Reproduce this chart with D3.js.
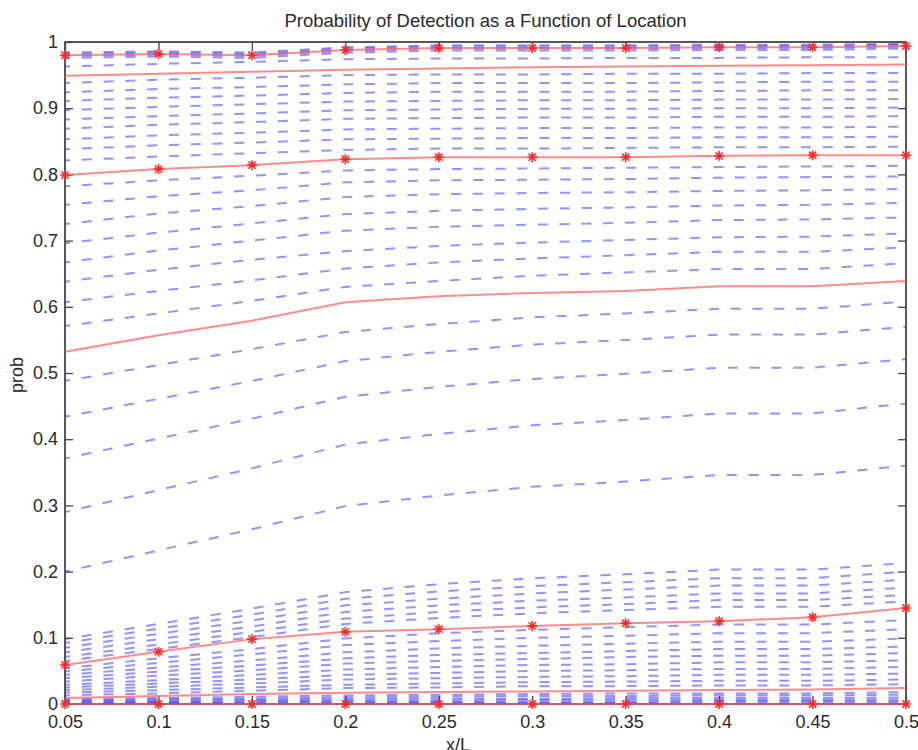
<!DOCTYPE html>
<html><head><meta charset="utf-8">
<script src="https://cdn.jsdelivr.net/npm/d3@7"></script>
<style>body{margin:0;background:#fff}svg{display:block}</style>
</head><body>
<svg id="c" width="918" height="750"></svg>
<script>
// ---------- data ----------
const xValues = [0.05,0.1,0.15,0.2,0.25,0.3,0.35,0.4,0.45,0.5];
const xTickLabels = ["0.05","0.1","0.15","0.2","0.25","0.3","0.35","0.4","0.45","0.5"];
const yTickValues = [0,0.1,0.2,0.3,0.4,0.5,0.6,0.7,0.8,0.9,1];
const yTickLabels = ["0","0.1","0.2","0.3","0.4","0.5","0.6","0.7","0.8","0.9","1"];

// blue dashed curves (grouped top to bottom)
const topBand = [
  [0.976,0.978,0.976,0.984,0.987,0.987,0.987,0.988,0.988,0.990],
  [0.979,0.981,0.979,0.987,0.990,0.990,0.990,0.991,0.991,0.993],
  [0.982,0.984,0.982,0.990,0.993,0.993,0.993,0.994,0.994,0.996],
  [0.984,0.986,0.984,0.992,0.995,0.995,0.995,0.996,0.996,0.997],
  [0.963,0.967,0.970,0.974,0.975,0.975,0.976,0.976,0.977,0.977]
];
const upperLines = [
  [0.938,0.943,0.946,0.950,0.951,0.951,0.952,0.952,0.953,0.953],
  [0.924,0.929,0.932,0.936,0.938,0.938,0.938,0.939,0.940,0.940],
  [0.911,0.916,0.919,0.923,0.925,0.925,0.925,0.926,0.927,0.927],
  [0.897,0.902,0.906,0.910,0.911,0.912,0.912,0.913,0.913,0.914],
  [0.883,0.888,0.892,0.897,0.898,0.899,0.899,0.900,0.900,0.901],
  [0.869,0.875,0.879,0.884,0.885,0.886,0.886,0.887,0.887,0.888],
  [0.853,0.859,0.863,0.868,0.869,0.870,0.870,0.871,0.871,0.872],
  [0.838,0.844,0.848,0.853,0.854,0.855,0.855,0.856,0.856,0.857],
  [0.821,0.827,0.832,0.837,0.839,0.839,0.840,0.841,0.841,0.842]
];
const middleUpper = [
  [0.782,0.791,0.798,0.806,0.808,0.809,0.810,0.811,0.812,0.813],
  [0.754,0.767,0.776,0.788,0.791,0.792,0.793,0.795,0.796,0.797],
  [0.725,0.741,0.752,0.766,0.770,0.772,0.773,0.775,0.776,0.778],
  [0.696,0.712,0.726,0.740,0.745,0.748,0.750,0.753,0.754,0.757],
  [0.667,0.685,0.700,0.715,0.721,0.724,0.727,0.731,0.732,0.735],
  [0.638,0.656,0.671,0.684,0.692,0.697,0.701,0.705,0.706,0.711],
  [0.607,0.624,0.640,0.658,0.667,0.673,0.678,0.683,0.683,0.690],
  [0.571,0.590,0.609,0.630,0.639,0.647,0.652,0.657,0.657,0.666]
];
const middleLower = [
  [0.488,0.512,0.536,0.562,0.574,0.584,0.590,0.597,0.597,0.608],
  [0.434,0.461,0.488,0.518,0.532,0.543,0.550,0.558,0.558,0.570],
  [0.371,0.401,0.431,0.464,0.479,0.491,0.499,0.508,0.508,0.521],
  [0.290,0.323,0.356,0.392,0.408,0.421,0.429,0.439,0.439,0.454],
  [0.200,0.232,0.264,0.299,0.315,0.328,0.336,0.346,0.346,0.360]
];
const lowerTop = [
  [0.098,0.121,0.144,0.169,0.181,0.190,0.196,0.203,0.203,0.213],
  [0.092,0.114,0.135,0.159,0.170,0.178,0.184,0.190,0.190,0.200],
  [0.085,0.106,0.126,0.149,0.159,0.167,0.173,0.179,0.179,0.188],
  [0.078,0.098,0.117,0.139,0.149,0.156,0.161,0.167,0.167,0.176],
  [0.071,0.090,0.109,0.129,0.139,0.146,0.151,0.157,0.157,0.165],
  [0.065,0.083,0.101,0.121,0.130,0.137,0.142,0.147,0.147,0.155]
];
const lowerMid = [
  [0.054,0.069,0.083,0.099,0.107,0.112,0.116,0.120,0.120,0.127],
  [0.049,0.062,0.075,0.089,0.095,0.100,0.103,0.107,0.107,0.113],
  [0.044,0.055,0.066,0.078,0.084,0.088,0.091,0.094,0.094,0.099],
  [0.039,0.049,0.058,0.069,0.074,0.077,0.080,0.083,0.083,0.087],
  [0.034,0.043,0.051,0.061,0.065,0.068,0.071,0.073,0.073,0.077],
  [0.029,0.036,0.044,0.052,0.056,0.059,0.060,0.063,0.063,0.066],
  [0.025,0.031,0.037,0.044,0.047,0.050,0.051,0.053,0.053,0.056],
  [0.021,0.026,0.031,0.037,0.039,0.041,0.042,0.044,0.044,0.046],
  [0.017,0.021,0.025,0.029,0.031,0.033,0.034,0.035,0.035,0.037],
  [0.013,0.016,0.020,0.024,0.025,0.027,0.027,0.028,0.028,0.030]
];
const bottomBand = [
  [0.007,0.009,0.011,0.013,0.014,0.015,0.016,0.016,0.016,0.018],
  [0.005,0.007,0.008,0.010,0.011,0.012,0.012,0.013,0.013,0.014],
  [0.004,0.005,0.006,0.007,0.008,0.008,0.009,0.009,0.009,0.010],
  [0.002,0.003,0.004,0.005,0.005,0.006,0.006,0.006,0.006,0.007],
  [0.001,0.002,0.002,0.003,0.003,0.003,0.003,0.004,0.004,0.004],
  [0.0005,0.001,0.001,0.001,0.0015,0.0015,0.0015,0.002,0.002,0.002]
];

// red solid curves; those with stars are marked
const redTopStar   = [0.980,0.982,0.980,0.988,0.991,0.991,0.991,0.992,0.992,0.994];
const redUpper     = [0.949,0.952,0.955,0.958,0.960,0.962,0.963,0.964,0.965,0.966];
const redHighStar  = [0.799,0.808,0.814,0.823,0.826,0.826,0.826,0.828,0.829,0.829];
const redMiddle    = [0.532,0.557,0.579,0.607,0.616,0.621,0.624,0.631,0.631,0.639];
const redLowStar   = [0.059,0.079,0.098,0.109,0.113,0.118,0.122,0.125,0.131,0.145];
const redLower     = [0.009,0.012,0.015,0.017,0.018,0.019,0.020,0.021,0.022,0.024];
const redZeroStar  = [0,0,0,0,0,0,0,0,0,0];

// ---------- drawing ----------
const svg = d3.select("#c");
const M = {l:65, r:906, t:42, b:704};
const x = d3.scaleLinear().domain([0.05,0.5]).range([M.l,M.r]);
const y = d3.scaleLinear().domain([0,1]).range([M.b,M.t]);
const font = "'Liberation Sans', Arial, Helvetica, sans-serif";
const textCol = "#2a2a2a";

const line = d3.line().x((d,i)=>x(xValues[i])).y(d=>y(d));

// title
svg.append("text").attr("x",(M.l+M.r)/2).attr("y",27).attr("text-anchor","middle")
  .attr("font-family",font).attr("font-size",18.5).attr("fill",textCol)
  .text("Probability of Detection as a Function of Location");

// box
svg.append("rect").attr("x",M.l).attr("y",M.t).attr("width",M.r-M.l).attr("height",M.b-M.t)
  .attr("fill","none").attr("stroke","#222").attr("stroke-width",1.5);

// axes (inside ticks)
function styleAxis(g){
  g.select(".domain").remove();
  g.selectAll(".tick line").attr("stroke","#444").attr("stroke-width",1.3);
  g.selectAll(".tick text").attr("font-family",font).attr("font-size",18).attr("fill",textCol);
}
svg.append("g").attr("transform",`translate(0,${M.b})`)
  .call(d3.axisBottom(x).tickValues(xValues).tickFormat((d,i)=>xTickLabels[i]).tickSizeInner(-8).tickSizeOuter(0).tickPadding(11))
  .call(styleAxis);
svg.append("g").attr("transform",`translate(0,${M.t})`)
  .call(d3.axisTop(x).tickValues(xValues).tickFormat("").tickSizeInner(-8).tickSizeOuter(0))
  .call(styleAxis);
svg.append("g").attr("transform",`translate(${M.l},0)`)
  .call(d3.axisLeft(y).tickValues(yTickValues).tickFormat((d,i)=>yTickLabels[i]).tickSizeInner(-8).tickSizeOuter(0).tickPadding(7))
  .call(styleAxis);
svg.append("g").attr("transform",`translate(${M.r},0)`)
  .call(d3.axisRight(y).tickValues(yTickValues).tickFormat("").tickSizeInner(-8).tickSizeOuter(0))
  .call(styleAxis);

// blue dashed curves
const blueAll = [].concat(topBand, upperLines, middleUpper, middleLower, lowerTop, lowerMid, bottomBand);
svg.append("g").selectAll("path").data(blueAll).join("path")
  .attr("d",line).attr("fill","none")
  .attr("stroke","#2a2aff").attr("stroke-opacity",0.5).attr("stroke-width",2)
  .attr("stroke-dasharray","10,11.8").attr("stroke-dashoffset",5);

// red curves
const redStar = [redTopStar, redHighStar, redLowStar, redZeroStar];
const redPlain = [redUpper, redMiddle, redLower];
svg.append("g").selectAll("path").data(redStar.concat(redPlain)).join("path")
  .attr("d",line).attr("fill","none")
  .attr("stroke","#ff5a5a").attr("stroke-opacity",0.7).attr("stroke-width",2);

// star markers
const starPath = (()=>{const r=5,s=r*0.72;return `M${-r},0L${r},0M0,${-r}L0,${r}M${-s},${-s}L${s},${s}M${-s},${s}L${s},${-s}`;})();
const stars = [];
redStar.forEach(arr=>arr.forEach((v,i)=>stars.push([xValues[i],v])));
svg.append("g").selectAll("path").data(stars).join("path")
  .attr("transform",d=>`translate(${x(d[0])},${y(d[1])})`)
  .attr("d",starPath).attr("fill","none").attr("stroke","#ff2a2a").attr("stroke-width",1.6);

// axis labels
svg.append("text").attr("x",458).attr("y",751).attr("text-anchor","middle")
  .attr("font-family",font).attr("font-size",18).attr("fill",textCol).text("x/L");
svg.append("text").attr("transform","translate(23,375) rotate(-90)").attr("text-anchor","middle")
  .attr("font-family",font).attr("font-size",18).attr("fill",textCol).text("prob");
</script>
</body></html>
